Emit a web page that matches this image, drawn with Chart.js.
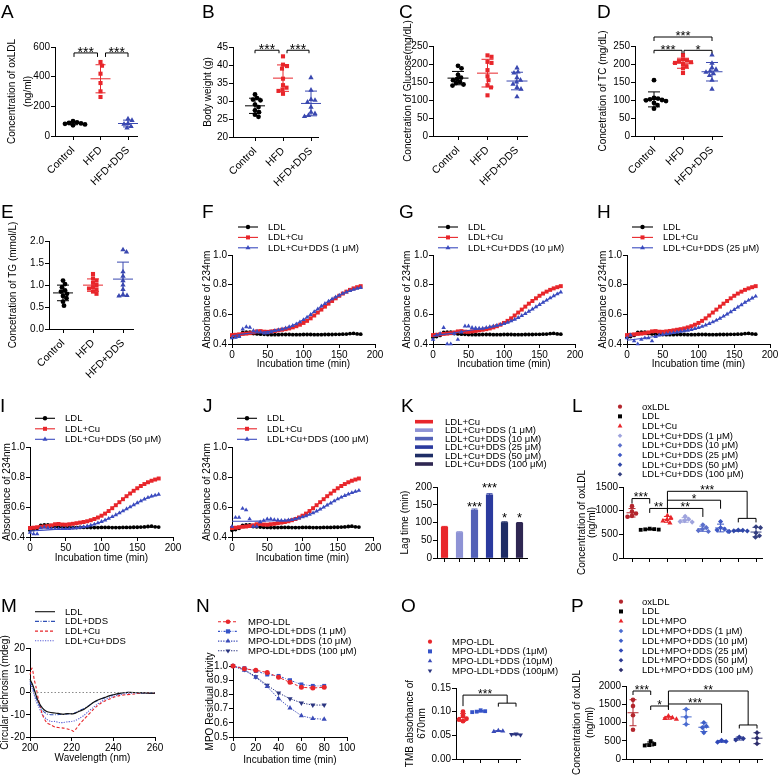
<!DOCTYPE html>
<html><head><meta charset="utf-8">
<script src="https://cdn.jsdelivr.net/npm/chart.js@4.4.1/dist/chart.umd.min.js"></script>
<style>
html,body{margin:0;padding:0;background:#fff;}
#root{position:relative;width:780px;height:776px;overflow:hidden;background:#fff;font-family:"Liberation Sans",Arial,Helvetica,sans-serif;}
canvas{position:absolute;}
.lbl{position:absolute;font-size:19px;line-height:19px;color:#000;}
.leg{position:absolute;font-size:9.5px;line-height:10px;white-space:nowrap;color:#000;}
svg{position:absolute;overflow:visible;}
</style></head><body><div id="root"></div>
<script>
// ================= DATA =================
const dietGroups = ['Control', 'HFD', 'HFD+DDS'];
// A: oxLDL (ng/ml)
const aControl = [100, 92, 88, 85, 82, 78, 72];
const aHFD = [499, 474, 420, 357, 301, 263];
const aHFDDDS = [115, 105, 85, 80, 65, 55];
// B: body weight (g)
const bControl = [31.8, 30.8, 30.4, 30.2, 29.0, 28.3, 27.4, 26.9, 26.2, 25.6];
const bHFD = [42.4, 40.1, 39.7, 39.0, 36.2, 34.4, 33.7, 33.2, 32.8, 32.0];
const bHFDDDS = [36.5, 33.0, 30.4, 30.2, 29.7, 28.3, 26.9, 26.5, 26.0, 25.7];
// C: glucose (mg/dL)
const cControl = [195, 188, 170, 162, 158, 155, 150, 147, 143, 140];
const cHFD = [224, 220, 206, 203, 183, 166, 155, 141, 135, 113];
const cHFDDDS = [189, 178, 175, 162, 155, 150, 144, 135, 130, 109];
// D: TC (mg/dL)
const dControl = [155, 106, 104, 102, 100, 99, 97, 92, 86, 76];
const dHFD = [225, 213, 210, 208, 205, 203, 200, 194, 188, 175];
const dHFDDDS = [225, 202, 190, 185, 180, 177, 173, 168, 155, 130];
// E: TG (mmol/L)
const eControl = [1.10, 1.02, 0.95, 0.88, 0.85, 0.80, 0.75, 0.70, 0.62, 0.53];
const eHFD = [1.25, 1.15, 1.10, 1.05, 1.00, 0.95, 0.92, 0.90, 0.85, 0.80];
const eHFDDDS = [1.80, 1.75, 1.30, 1.20, 1.10, 1.00, 0.90, 0.78, 0.76, 0.75];

// F-J: absorbance at 234 nm vs incubation time
const incTime = [0,5,10,15,20,25,30,35,40,45,50,55,60,65,70,75,80,85,90,95,100,105,110,115,120,125,130,135,140,145,150,155,160,165,170,175,180];
const fitTime = [0,20,40,60,80,100,120,140,160,180];
const absLDL = [0.445,0.450,0.458,0.478,0.480,0.480,0.470,0.468,0.466,0.465,
  0.464,0.463,0.463,0.463,0.464,0.464,0.464,0.463,0.463,0.463,
  0.464,0.464,0.464,0.463,0.463,0.463,0.464,0.464,0.464,0.465,
  0.465,0.466,0.467,0.470,0.472,0.468,0.466];
const fitLDL = [0.465,0.465,0.465,0.465,0.465,0.465,0.465,0.465,0.466,0.467];
const absCu = [0.460,0.462,0.465,0.468,0.470,0.473,0.478,0.485,0.487,0.483,
  0.482,0.485,0.488,0.492,0.496,0.500,0.505,0.512,0.520,0.530,
  0.542,0.556,0.573,0.592,0.612,0.632,0.652,0.672,0.690,0.708,
  0.725,0.740,0.753,0.765,0.775,0.783,0.790];
const fitCu = [0.460,0.470,0.487,0.488,0.505,0.542,0.612,0.690,0.753,0.790];
const absDDS1 = [0.440,0.445,0.450,0.500,0.515,0.512,0.490,0.485,0.480,0.472,
  0.475,0.482,0.490,0.495,0.500,0.507,0.515,0.524,0.535,0.548,
  0.563,0.580,0.598,0.617,0.636,0.655,0.672,0.688,0.703,0.716,
  0.728,0.740,0.750,0.759,0.767,0.774,0.780];
const fitDDS1 = [0.455,0.470,0.478,0.490,0.515,0.563,0.636,0.703,0.750,0.780];
const absDDS10 = [0.430,0.460,0.470,0.510,0.400,0.400,0.470,0.430,0.480,0.520,
  0.520,0.510,0.508,0.505,0.505,0.510,0.515,0.520,0.525,0.530,
  0.537,0.545,0.555,0.566,0.578,0.591,0.605,0.620,0.635,0.650,
  0.665,0.680,0.695,0.710,0.724,0.737,0.750];
const fitDDS10 = [0.455,0.468,0.483,0.498,0.513,0.535,0.576,0.634,0.695,0.750];
const absDDS25 = [0.440,0.460,0.420,0.400,0.430,0.440,0.440,0.420,0.450,0.460,
  0.465,0.468,0.472,0.476,0.480,0.484,0.488,0.492,0.497,0.503,
  0.510,0.518,0.527,0.537,0.548,0.560,0.573,0.587,0.601,0.616,
  0.632,0.648,0.664,0.680,0.695,0.709,0.722];
const fitDDS25 = [0.425,0.437,0.452,0.470,0.488,0.510,0.548,0.601,0.664,0.722];
const absDDS50 = [0.430,0.420,0.420,0.460,0.465,0.460,0.455,0.455,0.455,0.455,
  0.455,0.456,0.458,0.460,0.463,0.467,0.472,0.478,0.485,0.493,
  0.502,0.512,0.523,0.535,0.547,0.560,0.573,0.587,0.600,0.614,
  0.627,0.640,0.652,0.663,0.672,0.678,0.684];
const fitDDS50 = [0.440,0.446,0.452,0.458,0.472,0.502,0.547,0.600,0.652,0.684];
const absDDS100 = [0.470,0.530,0.530,0.590,0.580,0.520,0.470,0.470,0.500,0.510,
  0.520,0.520,0.515,0.512,0.510,0.510,0.512,0.515,0.520,0.526,
  0.533,0.541,0.550,0.560,0.572,0.585,0.598,0.612,0.626,0.640,
  0.653,0.665,0.676,0.686,0.695,0.703,0.710];
const fitDDS100 = [0.505,0.505,0.506,0.508,0.513,0.533,0.572,0.626,0.676,0.710];

// K: lag time (min)
const kLabels = ['LDL+Cu','LDL+Cu+DDS (1 μM)','LDL+Cu+DDS (10 μM)','LDL+Cu+DDS (25 μM)','LDL+Cu+DDS (50 μM)','LDL+Cu+DDS (100 μM)'];
const kLag = [87, 72, 135, 178, 100, 98];
const kErr = [2, 2, 3, 3, 2, 2];

// L: oxLDL (ng/ml), Cu-induced
const lLabels = ['oxLDL','LDL','LDL+Cu','LDL+Cu+DDS (1 μM)','LDL+Cu+DDS (10 μM)','LDL+Cu+DDS (25 μM)','LDL+Cu+DDS (50 μM)','LDL+Cu+DDS (100 μM)'];
const lOxLDL = [1095, 980, 940, 890, 870];
const lLDL = [620, 610, 605, 600, 595];
const lCu = [900, 850, 810, 780, 740];
const lDDS1 = [880, 820, 790, 770, 760];
const lDDS10 = [700, 640, 610, 580, 560];
const lDDS25 = [770, 640, 610, 590, 560];
const lDDS50 = [590, 585, 575, 570, 560];
const lDDS100 = [660, 640, 530, 470, 440];

// M: circular dichroism (mdeg)
const mLabels = ['LDL','LDL+DDS','LDL+Cu','LDL+Cu+DDS'];
const wavelength = [200,201,202,203,204,206,208,210,212,214,216,218,220,221,222,224,226,228,230,232,234,236,238,240,243,246,250,254,258,260];
const cdLDL = [6,4,1.5,-1.5,-4,-7,-8.5,-9,-9.2,-9.5,-9.8,-9.5,-9.6,-9.5,-9.2,-8.3,-7.5,-6.2,-4.7,-3.6,-2.8,-2.2,-1.5,-1,-0.4,0,0,-0.2,-0.3,-0.3];
const cdLDLDDS = [5,3,0.5,-2.5,-5,-8,-9.6,-10,-10,-9.9,-9.8,-9.6,-9.5,-9.4,-9,-8,-7.2,-6,-4.8,-3.8,-3,-2.3,-1.6,-1.1,-0.5,0,0,-0.2,-0.3,-0.3];
const cdCu = [8,11,6,2,-3,-10,-13.5,-14.5,-15.5,-15.8,-16,-16.4,-17,-17.5,-16.5,-14,-12,-10,-8,-6.2,-4.8,-3.8,-3,-2.2,-1.4,-1,-0.7,-0.1,-0.3,-0.3];
const cdCuDDS = [4,2,-1,-4,-6,-10,-12,-13,-13,-13.5,-13.5,-13.2,-13,-12.8,-12.5,-11.5,-10.2,-8.5,-7,-5.5,-4.2,-3.2,-2.4,-1.8,-1,-0.5,-0.2,-0.2,-0.3,-0.3];
const cdBaseline = 0;

// N: MPO residual activity
const nLabels = ['MPO-LDL','MPO-LDL+DDS (1 μM)','MPO-LDL+DDS (10 μM)','MPO-LDL+DDS (100 μM)'];
const nTime = [0,10,20,30,40,50,60,70,80];
const nMPO = [1.0,0.98,0.97,0.955,0.92,0.885,0.85,0.845,0.85];
const nDDS1 = [1.0,0.985,0.965,0.94,0.93,0.90,0.87,0.86,0.86];
const nDDS10 = [1.0,0.97,0.92,0.855,0.77,0.705,0.65,0.63,0.625];
const nDDS100 = [1.0,0.975,0.925,0.865,0.81,0.77,0.74,0.725,0.725];

// O: TMB absorbance at 670 nm
const oLabels = ['MPO-LDL','MPO-LDL+DDS (1μM)','MPO-LDL+DDS (10μM)','MPO-LDL+DDS (100μM)'];
const oMPO = [0.100, 0.091, 0.085, 0.080, 0.083];
const oDDS1 = [0.103, 0.101, 0.100, 0.099];
const oDDS10 = [0.060, 0.059, 0.058];
const oDDS100 = [0.053, 0.051, 0.052];

// P: oxLDL (ng/ml), MPO-induced
const pLabels = ['oxLDL','LDL','LDL+MPO','LDL+MPO+DDS (1 μM)','LDL+MPO+DDS (10 μM)','LDL+MPO+DDS (25 μM)','LDL+MPO+DDS (50 μM)','LDL+MPO+DDS (100 μM)'];
const pOxLDL = [1620, 1450, 1200, 800];
const pLDL = [490, 410, 380, 370];
const pMPO = [1180, 1130, 1110, 1090];
const pDDS1 = [1360, 1150, 950];
const pDDS10 = [1000, 900, 860, 720];
const pDDS25 = [510, 480, 460];
const pDDS50 = [600, 560, 520];
const pDDS100 = [720, 570, 420];

// ================= STYLE / HELPERS =================
const FONT = '"Liberation Sans", Arial, Helvetica, sans-serif';
Chart.defaults.font.family = FONT;
Chart.defaults.color = '#000';
const RED = '#e8262b', BLACK = '#000000', BLUE = '#3b4bbf', BLUE2 = '#3a48b0';
const root = document.getElementById('root');

function meanSd(a) {
  const m = a.reduce((s, v) => s + v, 0) / a.length;
  const sd = Math.sqrt(a.reduce((s, v) => s + (v - m) * (v - m), 0) / (a.length - 1));
  return [m, sd];
}
function swarm(vals, pxY, d) {
  const placed = [];
  return vals.map(v => {
    const py = v * pxY;
    let off = 0;
    for (let k = 0; k < 80; k++) {
      const cand = (k % 2 ? 1 : -1) * Math.ceil(k / 2) * 0.5;
      if (placed.every(q => (q[0] - cand) ** 2 + (q[1] - py) ** 2 >= d * d)) { off = cand; break; }
    }
    placed.push([off, py]);
    return off;
  });
}

const annotPlugin = {
  id: 'annot',
  afterDatasetsDraw(chart, args, o) {
    const ctx = chart.ctx, xs = chart.scales.x, ys = chart.scales.y;
    ctx.save();
    ctx.lineCap = 'butt';
    (o.stats || []).forEach(s => {
      const px = xs.getPixelForValue(s.x), m = ys.getPixelForValue(s.mean);
      const hi = ys.getPixelForValue(s.mean + s.err), lo = ys.getPixelForValue(s.mean - s.err);
      ctx.strokeStyle = s.color; ctx.lineWidth = 1;
      ctx.beginPath();
      if (s.mh) { ctx.moveTo(px - s.mh, m); ctx.lineTo(px + s.mh, m); }
      ctx.moveTo(px, hi); ctx.lineTo(px, s.noLow ? m : lo);
      ctx.moveTo(px - s.ch, hi); ctx.lineTo(px + s.ch, hi);
      if (!s.noLow) { ctx.moveTo(px - s.ch, lo); ctx.lineTo(px + s.ch, lo); }
      ctx.stroke();
    });
    const size = o.star || 13;
    ctx.font = size + 'px ' + FONT;
    ctx.fillStyle = '#000'; ctx.strokeStyle = '#000'; ctx.lineWidth = 1;
    ctx.textAlign = 'center'; ctx.textBaseline = 'alphabetic';
    (o.brackets || []).forEach(b => {
      const x1 = xs.getPixelForValue(b.x1) + (b.i1 || 0), x2 = xs.getPixelForValue(b.x2) - (b.i2 || 0);
      const y = b.y !== undefined ? ys.getPixelForValue(b.y) : null;
      if (y !== null) {
        const d1 = b.d1 ?? b.d ?? 4, d2 = b.d2 ?? b.d ?? 4;
        ctx.beginPath(); ctx.moveTo(x1, y + d1); ctx.lineTo(x1, y); ctx.lineTo(x2, y); ctx.lineTo(x2, y + d2); ctx.stroke();
      }
      if (b.t) {
        const cy = b.ly !== undefined ? ys.getPixelForValue(b.ly) : y - (o.gap || 4);
        ctx.fillText(b.t, (x1 + x2) / 2, cy + 0.57 * size);
      }
    });
    ctx.restore();
  }
};

function border() { return {display: true, color: '#000', width: 1}; }
function grid() { return {display: true, drawOnChartArea: false, drawTicks: true, tickLength: 4, color: '#000', lineWidth: 1}; }
function linAxis(min, max, step, fmt) {
  const f = fmt || (v => String(Math.round(v * 1e6) / 1e6));
  return {type: 'linear', min, max, border: border(), grid: grid(),
    ticks: {stepSize: step, color: '#000', font: {size: 10}, padding: 1, autoSkip: false, maxRotation: 0, minRotation: 0, callback: v => f(v)}};
}

function build(p) {
  const c = document.createElement('canvas');
  c.width = p.cw; c.height = p.ch;
  Object.assign(c.style, {left: p.cx + 'px', top: p.cy + 'px', width: p.cw + 'px', height: p.ch + 'px'});
  root.appendChild(c);
  const yW = p.pl - p.cx, xH = p.cy + p.ch - p.pb;
  p.scales.x.afterFit = s => { s.height = xH; };
  p.scales.y.afterFit = s => { s.width = yW; };
  if (p.yTitle) {
    const lh = p.yTitle.lh || 12;
    p.scales.y.title = {display: true, text: p.yTitle.text, color: '#000', font: {size: 10, lineHeight: lh / 10},
      padding: {top: Math.max(0, p.yTitle.x - p.cx - lh / 2), bottom: 0}};
  }
  if (p.xTitle) {
    p.scales.x.title = {display: true, text: p.xTitle.text, color: '#000', font: {size: 10, lineHeight: 1.2},
      padding: {top: 0, bottom: p.cy + p.ch - p.xTitle.y - 6}};
  }
  return new Chart(c, {
    type: p.type,
    data: {labels: p.labels || [], datasets: p.datasets},
    options: {
      responsive: false, animation: false, devicePixelRatio: 1, events: [],
      layout: {padding: {left: 0, right: p.cx + p.cw - p.pr, top: p.pt - p.cy, bottom: 0}},
      plugins: {legend: {display: false}, tooltip: {enabled: false}, annot: p.annot || {}},
      scales: p.scales
    },
    plugins: [annotPlugin]
  });
}

function dotPanel(p) {
  const n = p.groups.length;
  const s = (p.cN - p.c1) / (n - 1);
  const xmin = 1 - (p.c1 - p.pl) / s, xmax = n + (p.pr - p.cN) / s;
  const pxY = (p.pb - p.pt) / (p.ymax - p.ymin);
  const datasets = p.groups.map((g, gi) => {
    const offs = swarm(g.vals, pxY, p.dot || 4.0);
    return {data: g.vals.map((v, i) => ({x: gi + 1 + offs[i] / s, y: v})), pointStyle: g.style, pointRadius: g.r,
      rotation: g.rot || 0, backgroundColor: g.color, borderColor: g.color, borderWidth: 0, showLine: false, clip: false};
  });
  const stats = p.groups.map((g, gi) => { const ms = meanSd(g.vals); return {x: gi + 1, mean: ms[0], err: ms[1], color: g.color, mh: p.mh, ch: p.chw}; });
  const rot = p.cats ? 45 : 0;
  build(Object.assign({}, p, {
    type: 'scatter', datasets,
    scales: {
      x: {type: 'linear', min: xmin, max: xmax, border: border(), grid: grid(),
        afterBuildTicks: sc => { sc.ticks = p.groups.map((_, i) => ({value: i + 1})); },
        ticks: {autoSkip: false, minRotation: rot, maxRotation: rot, padding: 4, font: {size: 10.5}, color: '#000',
          callback: (v, i) => p.cats ? p.cats[i] : ''}},
      y: linAxis(p.ymin, p.ymax, p.ystep, p.yfmt)
    },
    annot: {stats, brackets: p.brackets, star: p.star, gap: p.gap}
  }));
}

function oxPanel(p) {
  const pts = (arr, color, style, r, order) => ({data: incTime.map((t, i) => ({x: t, y: arr[i]})), showLine: false,
    pointStyle: style, pointRadius: r, backgroundColor: color, borderColor: color, borderWidth: 0, clip: false, order});
  const fit = (arr, color, order) => ({data: fitTime.map((t, i) => ({x: t, y: arr[i]})), showLine: true, pointRadius: 0,
    borderColor: color, borderWidth: 1.1, cubicInterpolationMode: 'monotone', fill: false, clip: false, order});
  const datasets = [fit(fitLDL, BLACK, 5), pts(absLDL, BLACK, 'circle', 1.9, 4), fit(fitCu, RED, 3), pts(absCu, RED, 'rect', 2.8, 2),
    fit(p.fit, BLUE, 1), pts(p.vals, BLUE, 'triangle', 2.6, 0)];
  build(Object.assign({}, p, {type: 'scatter', datasets,
    scales: {x: linAxis(0, 200, 50), y: linAxis(0.4, 1.0, 0.2, v => v.toFixed(1))},
    yTitle: {text: 'Absorbance of 234nm', x: p.ytx}, xTitle: {text: 'Incubation time (min)', y: p.xty}}));
}

// ================= PANELS =================
const dietStyle = (a, b, c) => [
  {vals: a, color: BLACK, style: 'circle', r: 2.4},
  {vals: b, color: RED, style: 'rect', r: 2.9},
  {vals: c, color: BLUE2, style: 'triangle', r: 3.1}];

dotPanel({cx: 0, cy: 0, cw: 190, ch: 195, pl: 55, pt: 47, pr: 137, pb: 136, c1: 73, cN: 128, cats: dietGroups,
  groups: dietStyle(aControl, aHFD, aHFDDDS), ymin: 0, ymax: 600, ystep: 200, mh: 10, chw: 5, star: 14,
  yTitle: {text: ['Concentration of oxLDL', '(ng/ml)'], x: 12, lh: 16.5},
  brackets: [{x1: 1, x2: 2, y: 560, d: 4, i1: 1, i2: 3, t: '***'}, {x1: 2, x2: 3, y: 560, d: 4, i1: 5, i2: 0, t: '***'}]});

dotPanel({cx: 195, cy: 0, cw: 190, ch: 195, pl: 233, pt: 47, pr: 318, pb: 137, c1: 255, cN: 311, cats: dietGroups,
  groups: dietStyle(bControl, bHFD, bHFDDDS), ymin: 20, ymax: 45, ystep: 5, mh: 10, chw: 6, star: 14,
  yTitle: {text: 'Body weight (g)', x: 208},
  brackets: [{x1: 1, x2: 2, y: 44.1, d: 3, i2: 4, t: '***'}, {x1: 2, x2: 3, y: 44.1, d: 3, i1: 4, i2: 2, t: '***'}]});

dotPanel({cx: 395, cy: 0, cw: 190, ch: 195, pl: 433, pt: 46, pr: 527, pb: 136, c1: 458, cN: 517, cats: dietGroups,
  groups: dietStyle(cControl, cHFD, cHFDDDS), ymin: 0, ymax: 250, ystep: 50, mh: 10.5, chw: 6,
  yTitle: {text: 'Concetration of Glucose(mg/dL)', x: 408}});

dotPanel({cx: 592, cy: 0, cw: 188, ch: 195, pl: 635, pt: 46, pr: 722, pb: 136, c1: 654, cN: 712, cats: dietGroups,
  groups: dietStyle(dControl, dHFD, dHFDDDS), ymin: 0, ymax: 250, ystep: 50, mh: 10.5, chw: 6, star: 13,
  yTitle: {text: 'Concetration of TC (mg/dL)', x: 603},
  brackets: [{x1: 1, x2: 3, y: 275, d: 4, t: '***'}, {x1: 1, x2: 2, y: 238, d: 3, i2: 1, t: '***'}, {x1: 2, x2: 3, y: 238, d: 3, i1: 1, t: '*'}]});

dotPanel({cx: 0, cy: 195, cw: 190, ch: 190, pl: 49, pt: 241, pr: 133, pb: 329, c1: 63, cN: 123, cats: dietGroups,
  groups: dietStyle(eControl, eHFD, eHFDDDS), ymin: 0, ymax: 2, ystep: 0.5, yfmt: v => v.toFixed(1), mh: 10, chw: 6,
  yTitle: {text: 'Concetration of TG (mmol/L)', x: 13}});

oxPanel({cx: 195, cy: 195, cw: 190, ch: 190, pl: 232, pt: 255, pr: 375, pb: 344, ytx: 207, xty: 364, vals: absDDS1, fit: fitDDS1});
oxPanel({cx: 395, cy: 195, cw: 190, ch: 190, pl: 433, pt: 255, pr: 575, pb: 344, ytx: 407, xty: 364, vals: absDDS10, fit: fitDDS10});
oxPanel({cx: 592, cy: 195, cw: 188, ch: 190, pl: 627, pt: 255, pr: 770, pb: 344, ytx: 603, xty: 364, vals: absDDS25, fit: fitDDS25});
oxPanel({cx: -4, cy: 385, cw: 194, ch: 195, pl: 30, pt: 447, pr: 173, pb: 537, ytx: 7, xty: 558, vals: absDDS50, fit: fitDDS50});
oxPanel({cx: 195, cy: 385, cw: 190, ch: 195, pl: 232, pt: 447, pr: 373, pb: 537, ytx: 207, xty: 558, vals: absDDS100, fit: fitDDS100});

// K bars
const kColors = ['#e8262b', '#8e93d5', '#5361b7', '#2b3a9e', '#1e2d66', '#2f2752'];
build({cx: 395, cy: 385, cw: 140, ch: 195, pl: 437, pt: 487, pr: 527, pb: 558, type: 'bar', labels: kLabels,
  datasets: [{data: kLag, backgroundColor: kColors, borderWidth: 0, barThickness: 6.5}],
  scales: {
    x: {type: 'category', offset: true, border: border(), grid: Object.assign(grid(), {offset: false}),
      ticks: {callback: () => '', autoSkip: false, maxRotation: 0, minRotation: 0, padding: 0}},
    y: linAxis(0, 200, 50)
  },
  yTitle: {text: 'Lag time (min)', x: 405},
  annot: {star: 13,
    stats: kLag.map((v, i) => ({x: i, mean: v, err: kErr[i], color: kColors[i], mh: 0, ch: 3, noLow: true})),
    brackets: [{x1: 2, x2: 2, ly: 154, t: '***'}, {x1: 3, x2: 3, ly: 206, t: '***'}, {x1: 4, x2: 4, ly: 121, t: '*'}, {x1: 5, x2: 5, ly: 121, t: '*'}]}});

// L
const lColors = ['#b3262d', '#000000', '#e8262b', '#9ea3dd', '#5b6fcb', '#3e58c4', '#3047a8', '#343f80'];
const mkStyles = ['circle', 'rect', 'triangle', 'rectRot', 'rectRot', 'rectRot', 'rectRot', 'rectRot'];
const mkR = [2.3, 2.7, 3, 2.6, 2.6, 2.6, 2.6, 2.6];
dotPanel({cx: 570, cy: 385, cw: 210, ch: 195, pl: 623, pt: 487, pr: 762, pb: 558, c1: 632, cN: 756,
  groups: [lOxLDL, lLDL, lCu, lDDS1, lDDS10, lDDS25, lDDS50, lDDS100].map((v, i) => ({vals: v, color: lColors[i], style: mkStyles[i], r: mkR[i]})),
  ymin: 0, ymax: 1500, ystep: 500, mh: 5.5, chw: 3.5, star: 12, dot: 4.2,
  yTitle: {text: ['Concentration of oxLDL', '(ng/ml)'], x: 582, lh: 10.5},
  brackets: [
    {x1: 1, x2: 2, y: 1256, d: 5, t: '***'},
    {x1: 2, x2: 3, y: 1047, d: 4.5, t: '**'},
    {x1: 3, x2: 7.5, y: 1409, d1: 20, d2: 27, t: '***'},
    {x1: 7, x2: 8, y: 837, d: 4},
    {x1: 3, x2: 6, y: 1221, d1: 0, d2: 8.5, t: '*'},
    {x1: 3, x2: 5, y: 1047, d1: 0, d2: 8.5, t: '**'}]});

// M
const mDs = (arr, color, dash, w) => ({data: wavelength.map((x, i) => ({x, y: arr[i]})), showLine: true, pointRadius: 0,
  borderColor: color, borderWidth: w || 1.1, borderDash: dash, tension: 0.25, fill: false, clip: false});
build({cx: -4, cy: 580, cw: 194, ch: 196, pl: 30, pt: 648, pr: 155, pb: 737, type: 'scatter',
  datasets: [
    {data: [{x: 200, y: cdBaseline}, {x: 260, y: cdBaseline}], showLine: true, pointRadius: 0, borderColor: '#8a8a8a', borderWidth: 1, borderDash: [1.5, 2]},
    mDs(cdLDL, '#111111', [], 1.2), mDs(cdLDLDDS, '#2f4fb5', [4, 1.5, 1, 1.5]), mDs(cdCu, RED, [3, 2]), mDs(cdCuDDS, '#5a5fd6', [1.2, 1.3])],
  scales: {x: linAxis(200, 260, 20), y: linAxis(-20, 20, 10)},
  yTitle: {text: 'Circular dichrosim (mdeg)', x: 5}, xTitle: {text: 'Wavelength (nm)', y: 758}});

// N
const nDs = (arr, color, style, r, dash, rot) => ({data: nTime.map((x, i) => ({x, y: arr[i]})), showLine: true,
  pointStyle: style, pointRadius: r, rotation: rot || 0, backgroundColor: color, borderColor: color, pointBorderWidth: 0,
  borderWidth: 1, borderDash: dash, tension: 0, fill: false, clip: false});
const nColors = [RED, '#3553c8', '#3a4bb8', '#2b3580'];
build({cx: 195, cy: 580, cw: 190, ch: 196, pl: 233, pt: 666, pr: 347, pb: 737, type: 'scatter',
  datasets: [nDs(nMPO, nColors[0], 'circle', 2.5, [3, 2]), nDs(nDDS1, nColors[1], 'rect', 2.8, [2, 1.5, 0.6, 1.5]),
    nDs(nDDS10, nColors[2], 'triangle', 3, [1.3, 1.3]), nDs(nDDS100, nColors[3], 'triangle', 3, [1.3, 1.3], 180)],
  scales: {x: linAxis(0, 100, 20), y: linAxis(0.5, 1.0, 0.1, v => v.toFixed(1))},
  yTitle: {text: 'MPO Residual activity', x: 210}, xTitle: {text: 'Incubation time (min)', y: 760}});

// O
const oColors = [RED, '#3553c8', '#3a4bb8', '#2b3580'];
dotPanel({cx: 395, cy: 580, cw: 140, ch: 196, pl: 456, pt: 688, pr: 520, pb: 759, c1: 463, cN: 516,
  groups: [{vals: oMPO, color: oColors[0], style: 'circle', r: 2.4}, {vals: oDDS1, color: oColors[1], style: 'rect', r: 2.7},
    {vals: oDDS10, color: oColors[2], style: 'triangle', r: 2.9}, {vals: oDDS100, color: oColors[3], style: 'triangle', r: 2.9, rot: 180}],
  ymin: 0, ymax: 0.15, ystep: 0.05, yfmt: v => v.toFixed(2), mh: 5, chw: 3, star: 12, dot: 4.2,
  yTitle: {text: ['TMB absorbance of', '670nm'], x: 410, lh: 12.7},
  brackets: [{x1: 1, x2: 3.5, y: 0.135, d1: 11, d2: 8, t: '***'}, {x1: 3, x2: 4, y: 0.118, d: 3.5}]});

// P
const pColors = ['#b3262d', '#000000', '#e8262b', '#4a6cd0', '#3d5ec8', '#3149b8', '#2c3a92', '#2e2f6e'];
dotPanel({cx: 563, cy: 580, cw: 217, ch: 196, pl: 626, pt: 686, pr: 762, pb: 759, c1: 633, cN: 757,
  groups: [pOxLDL, pLDL, pMPO, pDDS1, pDDS10, pDDS25, pDDS50, pDDS100].map((v, i) => ({vals: v, color: pColors[i], style: mkStyles[i], r: mkR[i]})),
  ymin: 0, ymax: 2000, ystep: 500, mh: 5.5, chw: 3.5, star: 12, dot: 4.2,
  yTitle: {text: ['Concentration of oxLDL', '(ng/ml)'], x: 577, lh: 13.5},
  brackets: [
    {x1: 1, x2: 2, y: 1863, d: 4, t: '***'},
    {x1: 2, x2: 3, y: 1452, d: 4, t: '*'},
    {x1: 3, x2: 7.5, y: 1863, d1: 18, d2: 34, t: '**'},
    {x1: 7, x2: 8, y: 932, d: 3.5},
    {x1: 3, x2: 6, y: 1507, d1: 0, d2: 29, t: '***'}]});

// ================= LEGENDS & LETTERS (HTML/SVG) =================
const NS = 'http://www.w3.org/2000/svg';
const svg = document.createElementNS(NS, 'svg');
svg.setAttribute('width', 780); svg.setAttribute('height', 776);
svg.style.left = '0px'; svg.style.top = '0px';
root.appendChild(svg);
function E(tag, attrs) { const e = document.createElementNS(NS, tag); for (const k in attrs) e.setAttribute(k, attrs[k]); svg.appendChild(e); return e; }
function mark(kind, x, y, color, r) {
  if (kind === 'circle') E('circle', {cx: x, cy: y, r: r || 2.2, fill: color});
  else if (kind === 'rect') { const h = r || 2; E('rect', {x: x - h, y: y - h, width: 2 * h, height: 2 * h, fill: color}); }
  else if (kind === 'triangle' || kind === 'triangleDown') {
    const s = r || 2.9, k = kind === 'triangle' ? 1 : -1;
    E('polygon', {points: `${x},${y - k * s} ${x + s * 0.866},${y + k * s * 0.5} ${x - s * 0.866},${y + k * s * 0.5}`, fill: color});
  } else if (kind === 'diamond') {
    const s = r || 2.4;
    E('polygon', {points: `${x},${y - s} ${x + s},${y} ${x},${y + s} ${x - s},${y}`, fill: color});
  }
}
function text(s, x, y) { const d = document.createElement('div'); d.className = 'leg'; d.textContent = s; d.style.left = x + 'px'; d.style.top = (y - 5) + 'px'; root.appendChild(d); }
function legend(o, items) {
  items.forEach((it, i) => {
    const y = o.y0 + i * o.dy;
    if (it.line) E('line', {x1: o.x1, y1: y, x2: o.x2, y2: y, stroke: it.color, 'stroke-width': 1.1, 'stroke-dasharray': it.line === 'solid' ? '' : it.line});
    if (it.bar) E('rect', {x: o.x1, y: y - 1.8, width: o.x2 - o.x1, height: 3.6, fill: it.color});
    if (it.mk) mark(it.mk, o.mx !== undefined ? o.mx : (o.x1 + o.x2) / 2, y, it.color, it.r);
    text(it.t, o.tx, y);
  });
}
const oxItems = label => [{t: 'LDL', color: BLACK, mk: 'circle', line: 'solid', r: 2.2}, {t: 'LDL+Cu', color: RED, mk: 'rect', line: 'solid', r: 2},
  {t: label, color: BLUE, mk: 'triangle', line: 'solid', r: 2.9}];
legend({x1: 238, x2: 258, tx: 268, y0: 227, dy: 10.4}, oxItems('LDL+Cu+DDS (1 μM)'));
legend({x1: 438, x2: 458, tx: 468, y0: 227, dy: 10.4}, oxItems('LDL+Cu+DDS (10 μM)'));
legend({x1: 632, x2: 653, tx: 663, y0: 227, dy: 10.4}, oxItems('LDL+Cu+DDS (25 μM)'));
legend({x1: 35, x2: 55, tx: 65, y0: 418.3, dy: 10.5}, oxItems('LDL+Cu+DDS (50 μM)'));
legend({x1: 237, x2: 257, tx: 267, y0: 418.3, dy: 10.5}, oxItems('LDL+Cu+DDS (100 μM)'));
legend({x1: 415, x2: 433, tx: 445, y0: 421.7, dy: 8.46}, kLabels.map((t, i) => ({t, color: kColors[i], bar: true})));
const legMk = ['circle', 'rect', 'triangle', 'diamond', 'diamond', 'diamond', 'diamond', 'diamond'];
legend({mx: 620, tx: 642, y0: 406.7, dy: 9.66}, lLabels.map((t, i) => ({t, color: lColors[i], mk: legMk[i], r: [2.1, 2, 2.8, 2.3, 2.3, 2.3, 2.3, 2.3][i]})));
legend({mx: 621, tx: 642, y0: 601.7, dy: 9.76}, pLabels.map((t, i) => ({t, color: pColors[i], mk: legMk[i], r: [2.1, 2, 2.8, 2.3, 2.3, 2.3, 2.3, 2.3][i]})));
legend({x1: 35, x2: 55, tx: 65, y0: 611.7, dy: 9.7}, [
  {t: mLabels[0], color: '#111111', line: 'solid'}, {t: mLabels[1], color: '#2f4fb5', line: '4 1.5 1 1.5'},
  {t: mLabels[2], color: RED, line: '3 2'}, {t: mLabels[3], color: '#5a5fd6', line: '1.2 1.3'}]);
legend({x1: 218, x2: 238, tx: 248, y0: 621.7, dy: 9.7}, [
  {t: nLabels[0], color: nColors[0], line: '3 2', mk: 'circle', r: 2.3}, {t: nLabels[1], color: nColors[1], line: '2 1.5 0.6 1.5', mk: 'rect', r: 2.1},
  {t: nLabels[2], color: nColors[2], line: '1.3 1.3', mk: 'triangle', r: 2.8}, {t: nLabels[3], color: nColors[3], line: '1.3 1.3', mk: 'triangleDown', r: 2.8}]);
legend({mx: 430, tx: 452, y0: 641.7, dy: 9.67}, [
  {t: oLabels[0], color: oColors[0], mk: 'circle', r: 2.1}, {t: oLabels[1], color: oColors[1], mk: 'rect', r: 2},
  {t: oLabels[2], color: oColors[2], mk: 'triangle', r: 2.6}, {t: oLabels[3], color: oColors[3], mk: 'triangleDown', r: 2.6}]);

const letters = [['A', 1, 1.5], ['B', 202, 1.5], ['C', 399, 1.5], ['D', 597, 1.5],
  ['E', 1, 201.5], ['F', 202, 201.5], ['G', 399, 201.5], ['H', 597, 201.5],
  ['I', 0, 395.5], ['J', 203, 395.5], ['K', 401, 395.5], ['L', 572, 395.5],
  ['M', 1, 595.5], ['N', 196, 595.5], ['O', 401, 595.5], ['P', 571, 595.5]];
letters.forEach(([s, x, y]) => { const d = document.createElement('div'); d.className = 'lbl'; d.textContent = s; d.style.left = x + 'px'; d.style.top = y + 'px'; root.appendChild(d); });
</script></body></html>
